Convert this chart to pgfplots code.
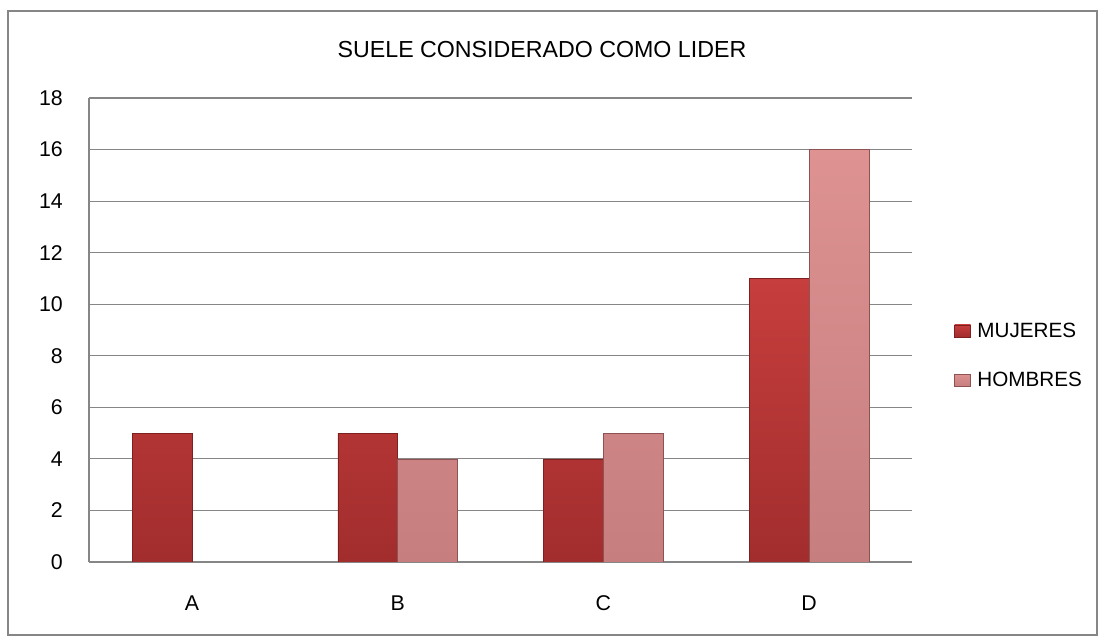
\documentclass[border=0pt]{standalone}
\usepackage{fontspec}
\setmainfont{Liberation Sans}
\usepackage{pgfplots}
\pgfplotsset{compat=1.18}
\definecolor{mujtop}{HTML}{C63E3D}
\definecolor{mujbot}{HTML}{A22D2D}
\definecolor{mujdk}{HTML}{7E2020}
\definecolor{homtop}{HTML}{DE9292}
\definecolor{hombot}{HTML}{C67E7E}
\definecolor{homdk}{HTML}{8E5252}
\definecolor{gridc}{HTML}{868686}

\begin{document}
\begin{tikzpicture}[x=0.75pt,y=0.75pt,font=\fontsize{15.5pt}{18pt}\selectfont]
\path[use as bounding box] (0,0) rectangle (1105,641);
\draw[gridc,line width=1.3pt] (8,6) rectangle (1097,630);
\node[font=\fontsize{17.4pt}{20pt}\selectfont] at (542,591) {SUELE CONSIDERADO COMO LIDER};
\begin{axis}[at={(66.75pt,59.25pt)},anchor=south west,scale only axis,
  width=617.25pt,height=348pt,
  xmin=-0.5,xmax=3.5,ymin=0,ymax=18,
  xtick={0,1,2,3},xticklabels={A,B,C,D},
  ytick={0,2,...,18},
  axis x line*=bottom,axis y line*=left,
  axis line style={draw=gridc,line width=1.2pt},
  ymajorgrids,major grid style={draw=gridc,line width=0.9pt},
  major tick length=0pt,
  /pgf/number format/assume math mode=true,
  xticklabel style={yshift=-22pt},
  yticklabel style={anchor=east,inner sep=0pt,xshift=-19.5pt},
  tick label style={font=\fontsize{16pt}{18pt}\selectfont},
  legend style={at={(1.051,0.445)},anchor=west,draw=none,fill=none,inner sep=0pt,
    row sep=20.5pt,column sep=3pt,font=\fontsize{15.5pt}{18pt}\selectfont},
  legend cell align=left,
  legend image code/.code={\fill[#1] (0pt,-4.5pt) rectangle (12pt,4.5pt);},
]
\addplot[ybar,bar width=0.29,bar shift=-0.145,draw=mujdk,line width=0.4pt,
  top color=mujtop,bottom color=mujbot] coordinates {(0,5)(1,5)(2,4)(3,11)};
\addlegendentry{MUJERES}
\addplot[ybar,bar width=0.29,bar shift=0.145,draw=homdk,line width=0.4pt,
  top color=homtop,bottom color=hombot] coordinates {(1,4)(2,5)(3,16)};
\addlegendentry{HOMBRES}
\end{axis}
\end{tikzpicture}
\end{document}
